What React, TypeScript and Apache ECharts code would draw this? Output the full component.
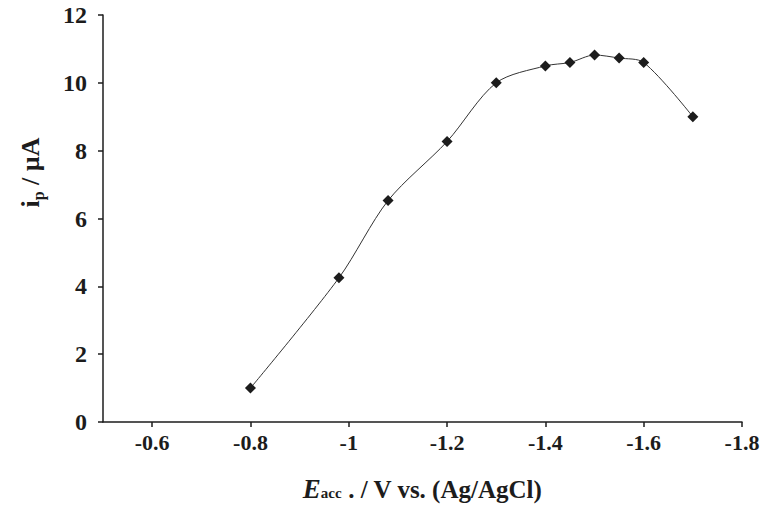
import React, { useEffect, useRef } from "react";
import * as echarts from "echarts";

const potentials = [-0.8, -0.98, -1.08, -1.2, -1.3, -1.4, -1.45, -1.5, -1.55, -1.6, -1.7];
const currents = [1.0, 4.25, 6.53, 8.27, 10.0, 10.5, 10.6, 10.82, 10.73, 10.6, 9.0];
const xTicks = [-0.6, -0.8, -1.0, -1.2, -1.4, -1.6, -1.8];
const yTicks = [0, 2, 4, 6, 8, 10, 12];

const FONT = "'Liberation Serif', 'DejaVu Serif', serif";
const INK = "#1c1c1c";

export default function App() {
  const ref = useRef<HTMLDivElement>(null);
  useEffect(() => {
    if (!ref.current) return;
    const chart = echarts.init(ref.current, undefined, { renderer: "svg" });
    chart.setOption({
      animation: false,
      backgroundColor: "#ffffff",
      grid: { left: 103, right: 22, top: 15, bottom: 93, containLabel: false },
      xAxis: {
        type: "value",
        inverse: true,
        min: -1.8,
        max: -0.5,
        name: "{e|E}{s|acc}{t| . / V vs. (Ag/AgCl)}",
        nameLocation: "middle",
        nameGap: 53,
        nameTextStyle: {
          rich: {
            e: { fontFamily: FONT, fontWeight: "bold", fontStyle: "italic", fontSize: 27, color: INK, verticalAlign: "bottom" },
            s: { fontFamily: FONT, fontWeight: "bold", fontSize: 15, color: INK, verticalAlign: "bottom", padding: [0, 0, 2, 0] },
            t: { fontFamily: FONT, fontWeight: "bold", fontSize: 25, color: INK, verticalAlign: "bottom" },
          },
        },
        axisLine: { show: true, lineStyle: { color: INK, width: 1.5 } },
        axisTick: { show: true, customValues: xTicks, length: 5, lineStyle: { color: INK, width: 1.5 } },
        axisLabel: {
          customValues: xTicks,
          formatter: (v: number) => String(Math.round(v * 10) / 10),
          fontFamily: FONT,
          fontWeight: "bold",
          fontSize: 22,
          color: INK,
          margin: 9,
        },
        splitLine: { show: false },
      },
      yAxis: {
        type: "value",
        min: 0,
        max: 12,
        interval: 2,
        name: "{i|i}{p|p}{t| / µA}",
        nameLocation: "middle",
        nameGap: 60,
        nameRotate: 90,
        nameTextStyle: {
          padding: [0, 0, 0, 92],
          rich: {
            i: { fontFamily: FONT, fontWeight: "bold", fontSize: 26, color: INK, verticalAlign: "bottom" },
            p: { fontFamily: FONT, fontWeight: "bold", fontSize: 16, color: INK, verticalAlign: "bottom", padding: [0, 0, -3, 0] },
            t: { fontFamily: FONT, fontWeight: "bold", fontSize: 26, color: INK, verticalAlign: "bottom" },
          },
        },
        axisLine: { show: true, lineStyle: { color: INK, width: 1.5 } },
        axisTick: { show: true, length: 5, lineStyle: { color: INK, width: 1.5 } },
        axisLabel: {
          fontFamily: FONT,
          fontWeight: "bold",
          fontSize: 24,
          color: INK,
          margin: 16,
          customValues: yTicks,
        },
        splitLine: { show: false },
      },
      series: [
        {
          type: "line",
          data: potentials.map((p, i) => [p, currents[i]]),
          smooth: 0.3,
          symbol: "diamond",
          symbolSize: 11,
          lineStyle: { color: "#333333", width: 1 },
          itemStyle: { color: INK },
        },
      ],
    });
    return () => chart.dispose();
  }, []);
  return <div ref={ref} style={{ position: "fixed", left: 0, top: 0, width: 764, height: 515 }} />;
}
